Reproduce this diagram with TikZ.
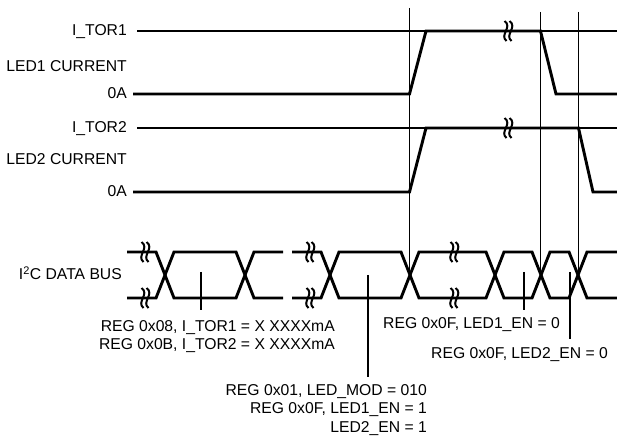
\documentclass[tikz,border=0pt]{standalone}
\usepackage{fontspec}
\setmainfont{Liberation Sans}

\tikzset{
  sig/.style={line width=2.9bp,line join=miter},
  ref/.style={line width=1.1bp},
  lbl/.style={font=\fontsize{15.7bp}{18.5bp}\selectfont,inner sep=0pt},
  brk/.pic={
    \draw[line width=2bp] (-3.5,-10) .. controls (5,-4) and (-9,4) .. (-1.5,10);
    \draw[line width=2bp] (1.5,-10) .. controls (10,-4) and (-4,4) .. (3.5,10);
  }
}

\begin{document}
\begin{tikzpicture}[x=1bp,y=-1bp]
  \useasboundingbox (0,0) rectangle (617,436);

  % left labels
  \node[lbl,anchor=base east] (itor1) at (127,36) {I\_TOR1};
  \node[lbl,anchor=base east] (cur1) at (127,71.7) {LED1 CURRENT};
  \node[lbl,anchor=base east] (zero1) at (127,99) {0A};
  \node[lbl,anchor=base east] (itor2) at (127,133) {I\_TOR2};
  \node[lbl,anchor=base east] (cur2) at (127,165) {LED2 CURRENT};
  \node[lbl,anchor=base east] (zero2) at (127,197) {0A};
  \node[lbl,anchor=base east] (bus) at (122,280) {I\textsuperscript{2}C DATA BUS};

  % reference levels
  \coordinate (r1) at (137,31);
  \coordinate (r2) at (137,128);
  \draw[ref] (r1) -- (617,31);
  \draw[ref] (r2) -- (617,128);

  % time markers
  \coordinate (m1) at (409.5,8);
  \coordinate (m2) at (540.5,12);
  \coordinate (m3) at (578.5,12);
  \foreach \m in {m1,m2,m3}
    \draw[ref] (\m) -- (\m |- 0,275);

  % LED currents
  \draw[sig] (133,94) -- (409.5,94) -- (426,31) -- (540.5,31) -- (556,94) -- (617,94);
  \draw[sig] (133,192) -- (409.5,192) -- (426,128) -- (578.5,128) -- (593,192) -- (617,192);
  \pic at (508,31) {brk};
  \pic at (508,128) {brk};

  % bus, first part
  \draw[sig] (127,252) -- (156,252) -- (174,298) -- (236,298) -- (254,252) -- (283,252);
  \draw[sig] (127,298) -- (156,298) -- (174,252) -- (236,252) -- (254,298) -- (283,298);
  % bus, second part
  \draw[sig] (292,252) -- (321,252) -- (339,298) -- (401,298) -- (419,252) -- (486,252)
    -- (504,298) -- (532,298) -- (550,252) -- (569,252) -- (587,298) -- (617,298);
  \draw[sig] (292,298) -- (321,298) -- (339,252) -- (401,252) -- (419,298) -- (486,298)
    -- (504,252) -- (532,252) -- (550,298) -- (569,298) -- (587,252) -- (617,252);
  \foreach \x in {145,310,454} {
    \pic at (\x,252) {brk};
    \pic at (\x,298) {brk};
  }

  % register writes
  \node[lbl,anchor=north east,align=right] (regA) at (335,320)
    {REG 0x08, I\_TOR1 = X XXXXmA\\REG 0x0B, I\_TOR2 = X XXXXmA};
  \node[lbl,anchor=north east,align=right] (regB) at (427,384)
    {REG 0x01, LED\_MOD = 010\\REG 0x0F, LED1\_EN = 1\\LED2\_EN = 1};
  \node[lbl,anchor=north west] (off1) at (383,317) {REG 0x0F, LED1\_EN = 0};
  \node[lbl,anchor=north west] (off2) at (431,347) {REG 0x0F, LED2\_EN = 0};

  \coordinate (ta) at (201,272);
  \coordinate (tb) at (368,275);
  \coordinate (tc) at (524,272);
  \coordinate (td) at (570,272);
  \draw[ref,shorten >=10bp] (ta) -- (ta |- regA.north);
  \draw[ref,shorten >=7bp] (tb) -- (tb |- regB.north);
  \draw[ref,shorten >=7bp] (tc) -- (tc |- off1.north);
  \draw[ref,shorten >=8bp] (td) -- (td |- off2.north);
\end{tikzpicture}
\end{document}
